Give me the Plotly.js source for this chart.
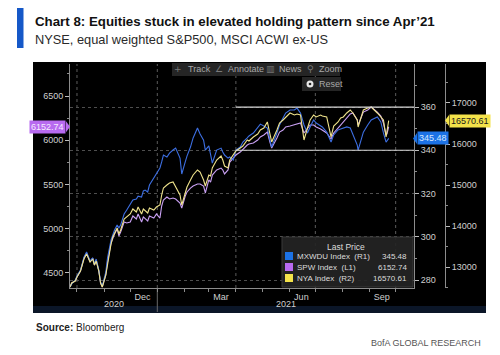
<!DOCTYPE html>
<html><head><meta charset="utf-8">
<script src="https://cdn.plot.ly/plotly-3.0.1.min.js"></script>
<style>html,body{margin:0;padding:0;background:#fff;}#chart{width:500px;height:355px;}</style>
</head><body><div id="chart"></div>
<script>
const dates = ['2020-09-23','2020-09-25','2020-09-29','2020-10-01','2020-10-05','2020-10-07','2020-10-09','2020-10-12','2020-10-14','2020-10-16',
'2020-10-19','2020-10-21','2020-10-23','2020-10-26','2020-10-28','2020-10-30','2020-11-03','2020-11-05','2020-11-09','2020-11-11',
'2020-11-13','2020-11-16','2020-11-18','2020-11-20','2020-11-24','2020-11-27','2020-12-01','2020-12-04','2020-12-08','2020-12-10',
'2020-12-14','2020-12-16','2020-12-18','2020-12-21','2020-12-23','2020-12-28','2020-12-31','2021-01-04','2021-01-06','2021-01-08',
'2021-01-12','2021-01-15','2021-01-19','2021-01-22','2021-01-27','2021-01-29','2021-02-02','2021-02-04','2021-02-08','2021-02-11',
'2021-02-16','2021-02-19','2021-02-23','2021-02-25','2021-03-01','2021-03-03','2021-03-05','2021-03-10','2021-03-15','2021-03-17',
'2021-03-19','2021-03-23','2021-03-25','2021-03-29','2021-04-01','2021-04-06','2021-04-09','2021-04-14','2021-04-16','2021-04-21',
'2021-04-26','2021-04-29','2021-05-03','2021-05-07','2021-05-10','2021-05-12','2021-05-18','2021-05-21','2021-05-25','2021-05-28',
'2021-06-02','2021-06-07','2021-06-10','2021-06-14','2021-06-18','2021-06-22','2021-06-25','2021-06-29','2021-07-02','2021-07-07',
'2021-07-09','2021-07-14','2021-07-19','2021-07-22','2021-07-27','2021-07-30','2021-08-02','2021-08-06','2021-08-10','2021-08-13',
'2021-08-18','2021-08-19','2021-08-23','2021-08-25','2021-08-30','2021-09-02','2021-09-03','2021-09-10','2021-09-14','2021-09-17',
'2021-09-20','2021-09-21','2021-09-23'];

const spw = [4342,4387,4410,4455,4523,4590,4669,4726,4681,4624,
4669,4590,4647,4523,4387,4342,4477,4624,4839,4895,
4941,4997,4918,4963,5076,5065,5076,5144,5110,5167,
5076,5133,5110,5088,5144,5121,5167,5121,5257,5325,
5359,5336,5347,5336,5291,5234,5370,5415,5460,5483,
5506,5506,5483,5404,5551,5528,5607,5664,5686,5664,
5619,5664,5754,5799,5833,5867,5901,5946,5958,5969,
6003,6037,6059,6093,5980,5912,6025,6093,6116,6150,
6161,6172,6184,6195,6082,6138,6172,6172,6150,6127,
6116,6082,6014,6082,6138,6172,6206,6263,6297,6308,
6229,6172,6263,6319,6342,6364,6376,6319,6274,6195,
6059,6071,6152.74];

const nya = [12512,12610,12659,12756,12902,13049,13195,13317,13220,13122,
13195,13049,13146,12902,12610,12512,12805,13098,13561,13732,
13829,13951,13805,13902,14171,14220,14293,14415,14341,14463,
14293,14415,14366,14317,14439,14390,14463,14512,14756,14927,
15000,15049,15073,14951,14756,14512,14829,14951,15122,15244,
15366,15317,15122,14976,15244,15220,15415,15610,15707,15610,
15463,15415,15610,15732,15829,15902,15951,16098,16073,16171,
16244,16341,16390,16537,16220,16049,16341,16512,16585,16659,
16756,16707,16732,16707,16098,16390,16585,16707,16659,16707,
16683,16659,16171,16439,16537,16634,16659,16756,16829,16756,
16585,16415,16707,16829,16878,16902,16902,16756,16659,16585,
16171,16293,16570.61];

const mxwdu = [276.8,278.2,280.0,281.9,284.6,287.4,290.6,293.0,290.6,288.8,
290.2,287.4,289.7,284.6,279.1,277.2,283.7,290.2,298.5,300.8,
303.1,305.4,304.1,305.4,310.5,312.4,314.7,317.0,317.5,318.8,
318.4,321.2,321.6,320.7,323.9,327.2,329.0,331.8,334.6,337.8,
336.9,338.7,340.1,341.0,336.4,329.0,334.6,337.3,341.5,345.7,
350.3,347.5,344.7,340.1,342.0,337.8,334.1,340.1,341.0,339.2,
337.8,336.4,336.9,335.5,340.1,341.5,343.8,345.7,346.6,348.0,
350.3,352.1,351.2,350.3,344.7,341.5,348.0,351.7,354.9,357.2,
358.6,358.6,359.5,357.2,351.7,348.0,350.8,354.0,352.6,351.2,
350.8,348.4,343.8,347.1,349.4,349.8,350.3,350.8,350.3,347.5,
342.4,340.1,345.7,348.4,351.7,353.1,354.0,355.4,353.1,348.0,
343.8,344.3,345.48];

const seriesNames = ['MXWDU Index  (R1)', 'SPW Index  (L1)', 'NYA Index  (R2)'];
const monthLabelDates = ['2020-12-15','2021-03-15','2021-06-15','2021-09-15'];
const monthLabels = ['Dec','Mar','Jun','Sep'];
const quarterStarts = ['2020-10-01','2021-01-01','2021-04-01','2021-07-01','2021-10-01'];
const yearBoundary = '2021-01-01';
const yearLabels = ['2020','2021'];
const bandStart = '2021-04-01';
const bandLevels = [340, 360];
const xRange = ['2020-09-23','2021-10-22'];
const rangeL = [4330, 6862];
const rangeR1 = [276.3, 379.9];
const rangeR2 = [12488, 17951];

const W = 500, H = 355;
const px = x => x / W;
const py = y => 1 - y / H;
const plotTop = 64, plotBot = 288;
const colBlue = '#3d6fe2', colPurple = '#c9a0f3', colYellow = '#efe38c';
const boxBlue = '#1c72e6', boxPurple = '#b86af0', boxYellow = '#f3e24a';

const traces = [
  {x: dates, y: spw, yaxis: 'y', mode: 'lines', name: seriesNames[1], line: {color: colPurple, width: 1.1}, hoverinfo: 'skip'},
  {x: dates, y: mxwdu, yaxis: 'y2', mode: 'lines', name: seriesNames[0], line: {color: colBlue, width: 1.1}, hoverinfo: 'skip'},
  {x: dates, y: nya, yaxis: 'y3', mode: 'lines', name: seriesNames[2], line: {color: colYellow, width: 1.1}, hoverinfo: 'skip'}
];

const axisCol = '#8c8c8c', tickCol = '#cfcfcf';
const tf = {family: 'Liberation Sans, Arial, sans-serif', size: 9, color: tickCol};

function midDate(a, b) {
  const ta = new Date(a).getTime(), tb = new Date(b).getTime();
  return new Date((ta + tb) / 2).toISOString().slice(0, 10);
}

const shapes = [];
shapes.push({type: 'rect', xref: 'paper', yref: 'paper', x0: px(33), x1: px(486), y0: py(313), y1: py(62), fillcolor: '#000', line: {width: 0}, layer: 'below'});
shapes.push({type: 'rect', xref: 'paper', yref: 'paper', x0: px(33), x1: px(486), y0: py(313), y1: py(306), fillcolor: '#0b1628', line: {width: 0}, layer: 'below'});
shapes.push({type: 'rect', xref: 'paper', yref: 'paper', x0: px(17), x1: px(23.5), y0: py(48), y1: py(8), fillcolor: '#1558c8', line: {width: 0}, layer: 'below'});
quarterStarts.forEach(q => shapes.push({type: 'line', xref: 'x', yref: 'paper', x0: q, x1: q, y0: py(plotBot), y1: py(plotTop), line: {color: '#5c5c5c', width: 1, dash: 'dot'}, layer: 'below'}));
shapes.push({type: 'line', xref: 'x', yref: 'paper', x0: yearBoundary, x1: yearBoundary, y0: py(312), y1: py(plotBot), line: {color: '#6a6a6a', width: 1}, layer: 'below'});
bandLevels.forEach(v => shapes.push({type: 'line', xref: 'x', yref: 'y2', x0: bandStart, x1: xRange[1], y0: v, y1: v, line: {color: '#d8d8d8', width: 1.2}, layer: 'above'}));
shapes.push({type: 'rect', xref: 'paper', yref: 'paper', x0: px(172), x1: px(340), y0: py(76), y1: py(63), fillcolor: '#252525', line: {width: 0}, layer: 'above'});
shapes.push({type: 'rect', xref: 'paper', yref: 'paper', x0: px(302), x1: px(341), y0: py(91), y1: py(77), fillcolor: '#252525', line: {width: 0}, layer: 'above'});
shapes.push({type: 'circle', xref: 'paper', yref: 'paper', x0: px(306.5), x1: px(313.5), y0: py(87.5), y1: py(80.5), fillcolor: '#e8e8e8', line: {width: 0}, layer: 'above'});
shapes.push({type: 'circle', xref: 'paper', yref: 'paper', x0: px(308.7), x1: px(311.3), y0: py(85.3), y1: py(82.7), fillcolor: '#252525', line: {width: 0}, layer: 'above'});
shapes.push({type: 'rect', xref: 'paper', yref: 'paper', x0: px(282), x1: px(413), y0: py(287), y1: py(237), fillcolor: 'rgba(36,36,36,0.92)', line: {color: '#3a3a3a', width: 1}, layer: 'above'});
const legCols = [boxBlue, boxPurple, boxYellow];
const legRows = [256, 267, 278];
legCols.forEach((c, i) => shapes.push({type: 'rect', xref: 'paper', yref: 'paper', x0: px(285), x1: px(293), y0: py(legRows[i] + 4), y1: py(legRows[i] - 4), fillcolor: c, line: {width: 0}, layer: 'above'}));

const plotH = plotBot - plotTop;
function tri(xTip, xBase, yref, val, rng, col) {
  const u = (rng[1] - rng[0]) / plotH * 5.5;
  return {type: 'path', xref: 'paper', yref: yref, path: `M ${px(xBase)} ${val - u} L ${px(xTip)} ${val} L ${px(xBase)} ${val + u} Z`, fillcolor: col, line: {width: 0}, layer: 'above'};
}
const lastS = spw[spw.length - 1], lastM = mxwdu[mxwdu.length - 1], lastN = nya[nya.length - 1];
shapes.push(tri(70, 66, 'y', lastS, rangeL, boxPurple));
shapes.push(tri(413, 417, 'y2', lastM, rangeR1, boxBlue));
shapes.push(tri(445, 449, 'y3', lastN, rangeR2, boxYellow));

const ann = [];
const A = o => ann.push(Object.assign({showarrow: false, xref: 'paper', yref: 'paper'}, o));
A({x: px(33), y: py(21), xanchor: 'left', yanchor: 'middle', text: '<b>Chart 8: Equities stuck in elevated holding pattern since Apr’21</b>', font: {family: 'Liberation Sans, Arial', size: 13.3, color: '#111'}});
A({x: px(33), y: py(40), xanchor: 'left', yanchor: 'middle', text: 'NYSE, equal weighted S&amp;P500, MSCI ACWI ex-US', font: {family: 'Liberation Sans, Arial', size: 12.8, color: '#2a2a2a'}});
A({x: px(34), y: py(327), xanchor: 'left', yanchor: 'middle', text: '<b>Source:</b> Bloomberg', font: {family: 'Liberation Sans, Arial', size: 10, color: '#222'}});
A({x: px(483), y: py(343), xanchor: 'right', yanchor: 'middle', text: 'BofA GLOBAL RESEARCH', font: {family: 'Liberation Sans, Arial', size: 9, color: '#555'}});
const tbf = {family: 'Liberation Sans, Arial', size: 9, color: '#a8a8a8'};
const tbi = {family: 'DejaVu Sans', size: 9, color: '#7a7a7a'};
A({x: px(178), y: py(69.5), xanchor: 'center', yanchor: 'middle', text: '+', font: tbi});
A({x: px(186), y: py(69.5), xanchor: 'left', yanchor: 'middle', text: 'Track', font: tbf});
A({x: px(219), y: py(69.5), xanchor: 'center', yanchor: 'middle', text: '∠', font: tbi});
A({x: px(226), y: py(69.5), xanchor: 'left', yanchor: 'middle', text: 'Annotate', font: tbf});
A({x: px(270), y: py(69.5), xanchor: 'center', yanchor: 'middle', text: '▥', font: tbi});
A({x: px(277), y: py(69.5), xanchor: 'left', yanchor: 'middle', text: 'News', font: tbf});
A({x: px(310), y: py(69.5), xanchor: 'center', yanchor: 'middle', text: '⚲', font: tbi});
A({x: px(317), y: py(69.5), xanchor: 'left', yanchor: 'middle', text: 'Zoom', font: tbf});
A({x: px(317), y: py(84), xanchor: 'left', yanchor: 'middle', text: 'Reset', font: tbf});
const lf = {family: 'Liberation Sans, Arial', size: 8, color: '#dcdcdc'};
A({x: px(346), y: py(246.5), xanchor: 'center', yanchor: 'middle', text: 'Last Price', font: {family: 'Liberation Sans, Arial', size: 8.5, color: '#dcdcdc'}});
const legVals = [lastM, lastS, lastN];
seriesNames.forEach((n, i) => {
  A({x: px(295), y: py(legRows[i]), xanchor: 'left', yanchor: 'middle', text: n.replace(/  /g, '&nbsp;&nbsp;'), font: lf});
  A({x: px(409), y: py(legRows[i]), xanchor: 'right', yanchor: 'middle', text: legVals[i].toFixed(2), font: lf});
});
A({xref: 'x', x: midDate(xRange[0], yearBoundary), y: py(304), xanchor: 'center', yanchor: 'middle', text: yearLabels[0], font: tf});
A({xref: 'x', x: midDate(yearBoundary, xRange[1]), y: py(304), xanchor: 'center', yanchor: 'middle', text: yearLabels[1], font: tf});
A({yref: 'y', x: px(66), y: lastS, xanchor: 'right', yanchor: 'middle', text: lastS.toFixed(2), bgcolor: boxPurple, borderpad: 1, font: {family: 'Liberation Sans, Arial', size: 9, color: '#f6ecff'}});
A({yref: 'y2', x: px(417), y: lastM, xanchor: 'left', yanchor: 'middle', text: lastM.toFixed(2), bgcolor: boxBlue, borderpad: 1, font: {family: 'Liberation Sans, Arial', size: 9, color: '#d6e8ff'}});
A({yref: 'y3', x: px(449), y: lastN, xanchor: 'left', yanchor: 'middle', text: lastN.toFixed(2), bgcolor: boxYellow, borderpad: 1, font: {family: 'Liberation Sans, Arial', size: 9, color: '#1a1a1a'}});

const layout = {
  width: W, height: H, margin: {l: 0, r: 0, t: 0, b: 0},
  paper_bgcolor: '#fff', plot_bgcolor: 'rgba(0,0,0,0)', showlegend: false,
  font: {family: 'Liberation Sans, Arial, sans-serif', size: 9, color: tickCol},
  xaxis: {type: 'date', domain: [px(70), px(414)], range: xRange, tickmode: 'array', tickvals: monthLabelDates, ticktext: monthLabels,
    ticks: '', showgrid: false, showline: true, linecolor: axisCol, linewidth: 1, zeroline: false, tickfont: tf, fixedrange: true,
    minor: {tickmode: 'linear', tick0: '2020-10-01', dtick: 'M1', ticks: 'outside', ticklen: 3, tickcolor: axisCol, showgrid: false}},
  yaxis: {domain: [py(plotBot), py(plotTop)], range: rangeL, tickmode: 'linear', tick0: 4500, dtick: 500, tickformat: 'd',
    ticks: 'outside', ticklen: 4, tickcolor: '#bdbdbd', showline: true, linecolor: axisCol, showgrid: false, zeroline: false, tickfont: tf,
    minor: {tickmode: 'linear', tick0: 4250, dtick: 250, ticks: 'outside', ticklen: 2, tickcolor: axisCol, showgrid: false}},
  yaxis2: {overlaying: 'y', side: 'right', anchor: 'x', range: rangeR1, tickmode: 'linear', tick0: 280, dtick: 20,
    ticks: 'outside', ticklen: 4, tickcolor: '#bdbdbd', showline: true, linecolor: axisCol, zeroline: false, tickfont: tf,
    showgrid: true, gridcolor: '#4e4e4e', griddash: 'dot', gridwidth: 1,
    minor: {tickmode: 'linear', tick0: 270, dtick: 10, ticks: 'outside', ticklen: 2, tickcolor: axisCol, showgrid: false}},
  yaxis3: {overlaying: 'y', side: 'right', anchor: 'free', position: px(445), range: rangeR2, tickmode: 'linear', tick0: 13000, dtick: 1000, tickformat: 'd',
    ticks: 'outside', ticklen: 4, tickcolor: '#bdbdbd', showline: true, linecolor: axisCol, zeroline: false, showgrid: false, tickfont: tf,
    minor: {tickmode: 'linear', tick0: 12500, dtick: 500, ticks: 'outside', ticklen: 2, tickcolor: axisCol, showgrid: false}},
  shapes: shapes, annotations: ann
};

Plotly.newPlot('chart', traces, layout, {staticPlot: true, displayModeBar: false});
</script></body></html>
